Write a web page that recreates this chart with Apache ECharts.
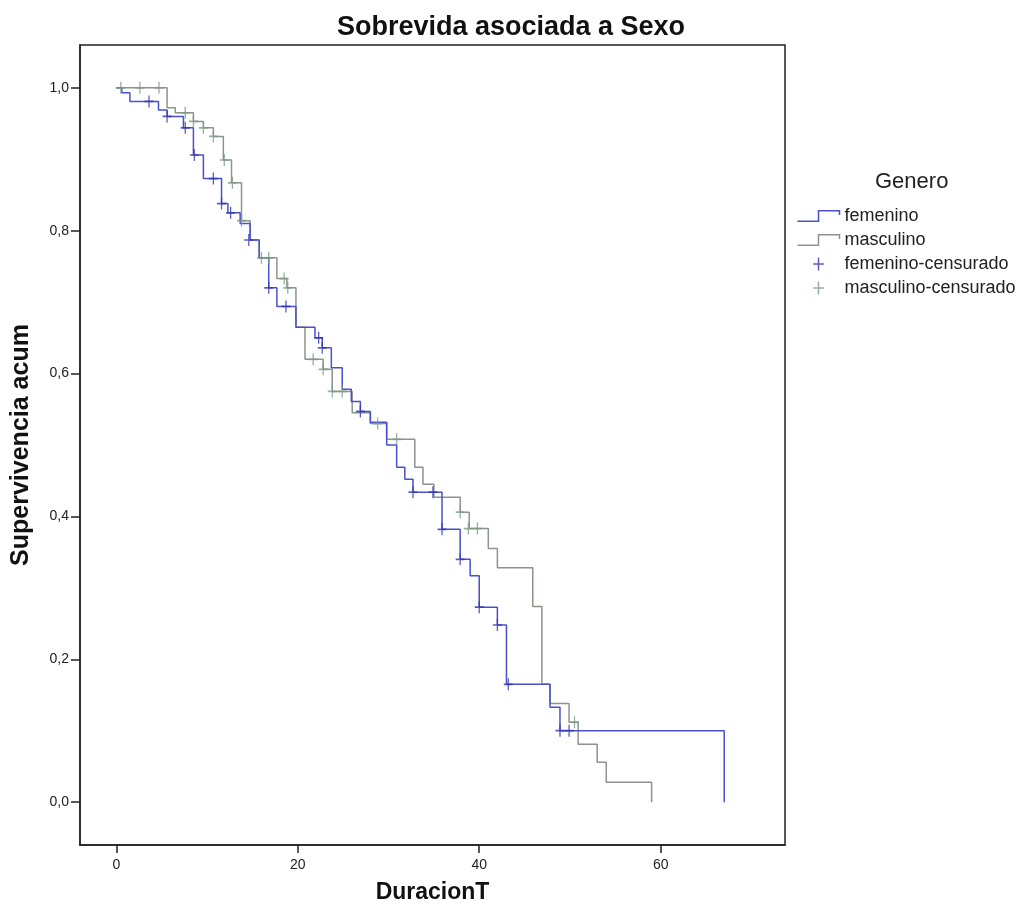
<!DOCTYPE html>
<html>
<head>
<meta charset="utf-8">
<script src="https://cdn.jsdelivr.net/npm/echarts@6/dist/echarts.min.js"></script>
<style>
html,body{margin:0;padding:0;background:#fff;}
#chart{width:1022px;height:910px;}
</style>
</head>
<body>
<div id="chart"></div>
<script>
// ---- Data (Kaplan-Meier steps: time of event, survival after event) ----
const femTime = [0, 0.6, 1.5, 4.65, 5.6, 7.4, 8.5, 9.6, 11.6, 12.3, 13.65, 14.75, 15.75, 16.8, 17.7, 19.8, 21.9, 22.7, 23.7, 24.9, 25.9, 26.9, 28.0, 29.8, 30.9, 31.8, 32.7, 35.9, 37.9, 39.0, 40.0, 42.0, 43.0, 47.8, 48.9, 67.0];
const femSurv = [1.0, 0.993, 0.981, 0.969, 0.96, 0.944, 0.906, 0.873, 0.838, 0.825, 0.81, 0.787, 0.762, 0.72, 0.694, 0.665, 0.65, 0.636, 0.608, 0.578, 0.561, 0.547, 0.532, 0.5, 0.469, 0.452, 0.434, 0.382, 0.34, 0.317, 0.273, 0.248, 0.165, 0.133, 0.1, 0.0];

const mascTime = [0, 5.6, 6.5, 8.5, 9.6, 10.7, 11.8, 12.7, 13.8, 14.75, 15.75, 17.7, 18.8, 19.8, 20.8, 22.8, 23.8, 26.0, 28.0, 29.8, 32.9, 33.8, 35.0, 37.9, 38.9, 41.0, 42.0, 45.9, 46.9, 47.8, 49.9, 50.9, 53.0, 54.0, 59.0];
const mascSurv = [1.0, 0.972, 0.965, 0.953, 0.944, 0.932, 0.899, 0.867, 0.814, 0.787, 0.762, 0.733, 0.72, 0.665, 0.62, 0.606, 0.575, 0.545, 0.53, 0.508, 0.469, 0.445, 0.427, 0.406, 0.383, 0.355, 0.328, 0.274, 0.165, 0.138, 0.112, 0.081, 0.056, 0.028, 0.0];

const femCensTime = [3.6, 5.6, 7.6, 8.6, 10.7, 11.6, 12.6, 14.6, 16.8, 18.7, 22.3, 22.7, 26.9, 32.7, 34.9, 35.9, 37.9, 40.0, 42.0, 43.2, 48.9, 49.9];
const femCensSurv = [0.981, 0.96, 0.944, 0.906, 0.873, 0.838, 0.825, 0.787, 0.72, 0.694, 0.65, 0.636, 0.547, 0.434, 0.434, 0.382, 0.34, 0.273, 0.248, 0.165, 0.1, 0.1];

const mascCensTime = [0.5, 2.6, 4.7, 7.6, 8.5, 9.6, 10.7, 11.9, 12.8, 13.8, 16.0, 16.8, 18.5, 18.9, 21.7, 22.8, 23.8, 24.9, 28.8, 30.9, 37.9, 38.8, 39.8, 50.5];
const mascCensSurv = [1.0, 1.0, 1.0, 0.965, 0.953, 0.944, 0.932, 0.899, 0.867, 0.814, 0.762, 0.762, 0.733, 0.72, 0.62, 0.606, 0.575, 0.575, 0.53, 0.508, 0.406, 0.383, 0.383, 0.112];

const xTicks = [0, 20, 40, 60];
const yTicks = [0, 0.2, 0.4, 0.6, 0.8, 1.0];

const seriesNames = ['femenino', 'masculino', 'femenino-censurado', 'masculino-censurado'];

// ---- Styling ----
const FEM = '#4a50cc';
const FEM_C = '#3434b0';
const MASC = '#8c948c';
const MASC_C = '#7c9c84';
const FONT = '"Liberation Sans", Arial, sans-serif';
const PLUS = 'path://M5,0 L5,12 M0,6 L10,6';
const STEP = 'path://M0,10 L20,10 L20,0 L40,0 L40,4';

const zip = (a, b) => a.map((v, i) => [v, b[i]]);

const chart = echarts.init(document.getElementById('chart'), null, {renderer: 'canvas'});
chart.setOption({
  animation: false,
  backgroundColor: '#fff',
  title: [
    {text: 'Sobrevida asociada a Sexo', left: 'center', top: 9,
     textStyle: {fontFamily: FONT, fontSize: 27, fontWeight: 'bold', color: '#111'}},
    {text: 'Genero', left: 870, top: 166,
     textStyle: {fontFamily: FONT, fontSize: 22, fontWeight: 'normal', color: '#222'}}
  ],
  legend: {
    orient: 'vertical', left: 790, top: 202, itemWidth: 42, itemHeight: 13, itemGap: 6,
    selectedMode: false,
    textStyle: {fontFamily: FONT, fontSize: 18, color: '#222'},
    data: [
      {name: seriesNames[0], icon: STEP, itemStyle: {color: 'none', borderColor: FEM, borderWidth: 1.5}},
      {name: seriesNames[1], icon: STEP, itemStyle: {color: 'none', borderColor: MASC, borderWidth: 1.5}},
      {name: seriesNames[2], icon: PLUS, itemStyle: {color: 'none', borderColor: FEM_C, borderWidth: 1.5}},
      {name: seriesNames[3], icon: PLUS, itemStyle: {color: 'none', borderColor: MASC_C, borderWidth: 1.5}}
    ]
  },
  grid: {left: 80, top: 45, right: 237, bottom: 65, show: true, borderColor: '#222', borderWidth: 1.5, backgroundColor: '#fff'},
  xAxis: {
    type: 'value', min: -4, max: 73.7,
    name: 'DuracionT', nameLocation: 'middle', nameGap: 36,
    nameTextStyle: {fontFamily: FONT, fontSize: 23, fontWeight: 'bold', color: '#111'},
    axisLine: {show: true, onZero: false, lineStyle: {color: '#222', width: 1.5}},
    axisTick: {show: true, customValues: xTicks, length: 8, lineStyle: {color: '#222', width: 1.5}},
    axisLabel: {customValues: xTicks, margin: 13, fontFamily: FONT, fontSize: 14, color: '#222'},
    splitLine: {show: false}
  },
  yAxis: {
    type: 'value', min: -0.06, max: 1.06,
    name: 'Supervivencia acum', nameLocation: 'middle', nameGap: 46,
    nameTextStyle: {fontFamily: FONT, fontSize: 25, fontWeight: 'bold', color: '#111'},
    axisLine: {show: true, onZero: false, lineStyle: {color: '#222', width: 1.5}},
    axisTick: {show: true, customValues: yTicks, length: 9, lineStyle: {color: '#222', width: 1.5}},
    axisLabel: {customValues: yTicks, margin: 11, fontFamily: FONT, fontSize: 14, color: '#222',
      formatter: v => v.toFixed(1).replace('.', ',')},
    splitLine: {show: false}
  },
  series: [
    {name: seriesNames[0], type: 'line', step: 'end', symbol: 'none', data: zip(femTime, femSurv),
     lineStyle: {color: FEM, width: 1.5}, itemStyle: {color: FEM}, z: 3},
    {name: seriesNames[1], type: 'line', step: 'end', symbol: 'none', data: zip(mascTime, mascSurv),
     lineStyle: {color: MASC, width: 1.5}, itemStyle: {color: MASC}, z: 2},
    {name: seriesNames[2], type: 'scatter', symbol: PLUS, symbolSize: [9, 12], data: zip(femCensTime, femCensSurv),
     itemStyle: {color: 'none', borderColor: FEM_C, borderWidth: 1.5}, z: 5},
    {name: seriesNames[3], type: 'scatter', symbol: PLUS, symbolSize: [9, 12], data: zip(mascCensTime, mascCensSurv),
     itemStyle: {color: 'none', borderColor: MASC_C, borderWidth: 1.5}, z: 4}
  ]
});
</script>
</body>
</html>
